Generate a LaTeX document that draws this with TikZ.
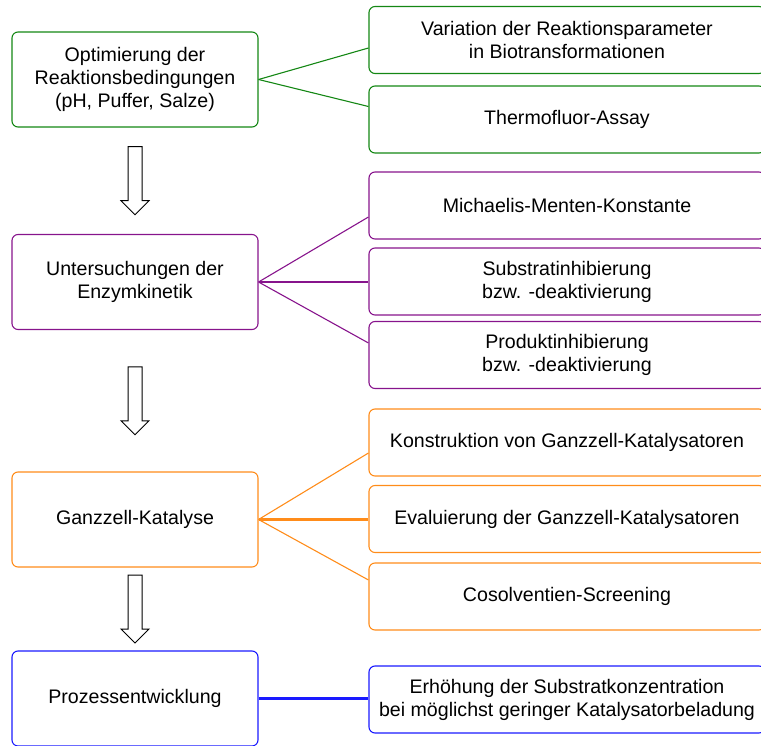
\documentclass[tikz,border=0pt]{standalone}
\usepackage{fontspec}
\setmainfont{Liberation Sans}
\usetikzlibrary{calc}

\definecolor{optgreen}{RGB}{20,135,20}
\definecolor{kinpurple}{RGB}{135,20,140}
\definecolor{ganzorange}{RGB}{255,140,26}
\definecolor{prozblue}{RGB}{26,26,255}

\begin{document}
\begin{tikzpicture}[x=1pt,y=-1pt,line width=1.1pt,
  mainbox/.style={draw,rounded corners=6pt,minimum width=246pt,minimum height=95pt,
    align=center,font=\fontsize{19.6}{23}\selectfont},
  sidebox/.style={draw,rounded corners=6pt,minimum width=396pt,minimum height=67pt,
    align=center,font=\fontsize{19.6}{23}\selectfont},
  blockarrow/.style={draw,fill=white,line width=1pt},
  midline/.style={line width=2.2pt}]
\useasboundingbox (0,0) rectangle (761,746);
\clip (0,0) rectangle (761,746);

% linke Spalte
\node[mainbox,draw=optgreen] (opt) at (135,79.5) {Optimierung der\\Reaktionsbedingungen\\(pH, Puffer, Salze)};
\node[mainbox,draw=kinpurple] (kin) at (135,282) {Untersuchungen der\\Enzymkinetik};
\node[mainbox,draw=ganzorange] (ganz) at (135,519.5) {Ganzzell-Katalyse};
\node[mainbox,draw=prozblue] (proz) at (135,698.5) {Prozessentwicklung};

% rechte Spalte
\node[sidebox,draw=optgreen] (var) at (567,40) {Variation der Reaktionsparameter\\in Biotransformationen};
\node[sidebox,draw=optgreen] (thermo) at (567,119.5) {Thermofluor-Assay};
\node[sidebox,draw=kinpurple] (km) at (567,205.5) {Michaelis-Menten-Konstante};
\node[sidebox,draw=kinpurple] (subinh) at (567,281.5) {Substratinhibierung\\bzw. -deaktivierung};
\node[sidebox,draw=kinpurple] (prodinh) at (567,355) {Produktinhibierung\\bzw. -deaktivierung};
\node[sidebox,draw=ganzorange] (konst) at (567,442.5) {Konstruktion von Ganzzell-Katalysatoren};
\node[sidebox,draw=ganzorange] (eval) at (567,519) {Evaluierung der Ganzzell-Katalysatoren};
\node[sidebox,draw=ganzorange] (cosolv) at (567,596.5) {Cosolventien-Screening};
\node[sidebox,draw=prozblue] (erh) at (567,699.5) {Erhöhung der Substratkonzentration\\bei möglichst geringer Katalysatorbeladung};

% Verbindungen
\draw[optgreen] (opt.east) -- ([yshift=-8pt]var.west);
\draw[optgreen] (opt.east) -- ([yshift=13pt]thermo.west);
\draw[kinpurple] (kin.east) -- ([yshift=-11.5pt]km.west);
\draw[kinpurple,midline] (kin.east) -- (kin.east -| subinh.west);
\draw[kinpurple] (kin.east) -- ([yshift=12pt]prodinh.west);
\draw[ganzorange] (ganz.east) -- ([yshift=-10.5pt]konst.west);
\draw[ganzorange,midline] (ganz.east) -- (ganz.east -| eval.west);
\draw[ganzorange] (ganz.east) -- ([yshift=16.5pt]cosolv.west);
\draw[prozblue,midline] (proz.east) -- (proz.east -| erh.west);

% Blockpfeile
\foreach \a/\b in {opt/kin,kin/ganz,ganz/proz}{
  \coordinate (m) at ($(\a.south)!0.5!(\b.north)$);
  \draw[blockarrow] ([shift={(-7,-34)}]m) -- ([shift={(7,-34)}]m) -- ([shift={(7,20)}]m)
    -- ([shift={(14,20)}]m) -- ([shift={(0,34)}]m) -- ([shift={(-14,20)}]m)
    -- ([shift={(-7,20)}]m) -- cycle;
}
\end{tikzpicture}
\end{document}
